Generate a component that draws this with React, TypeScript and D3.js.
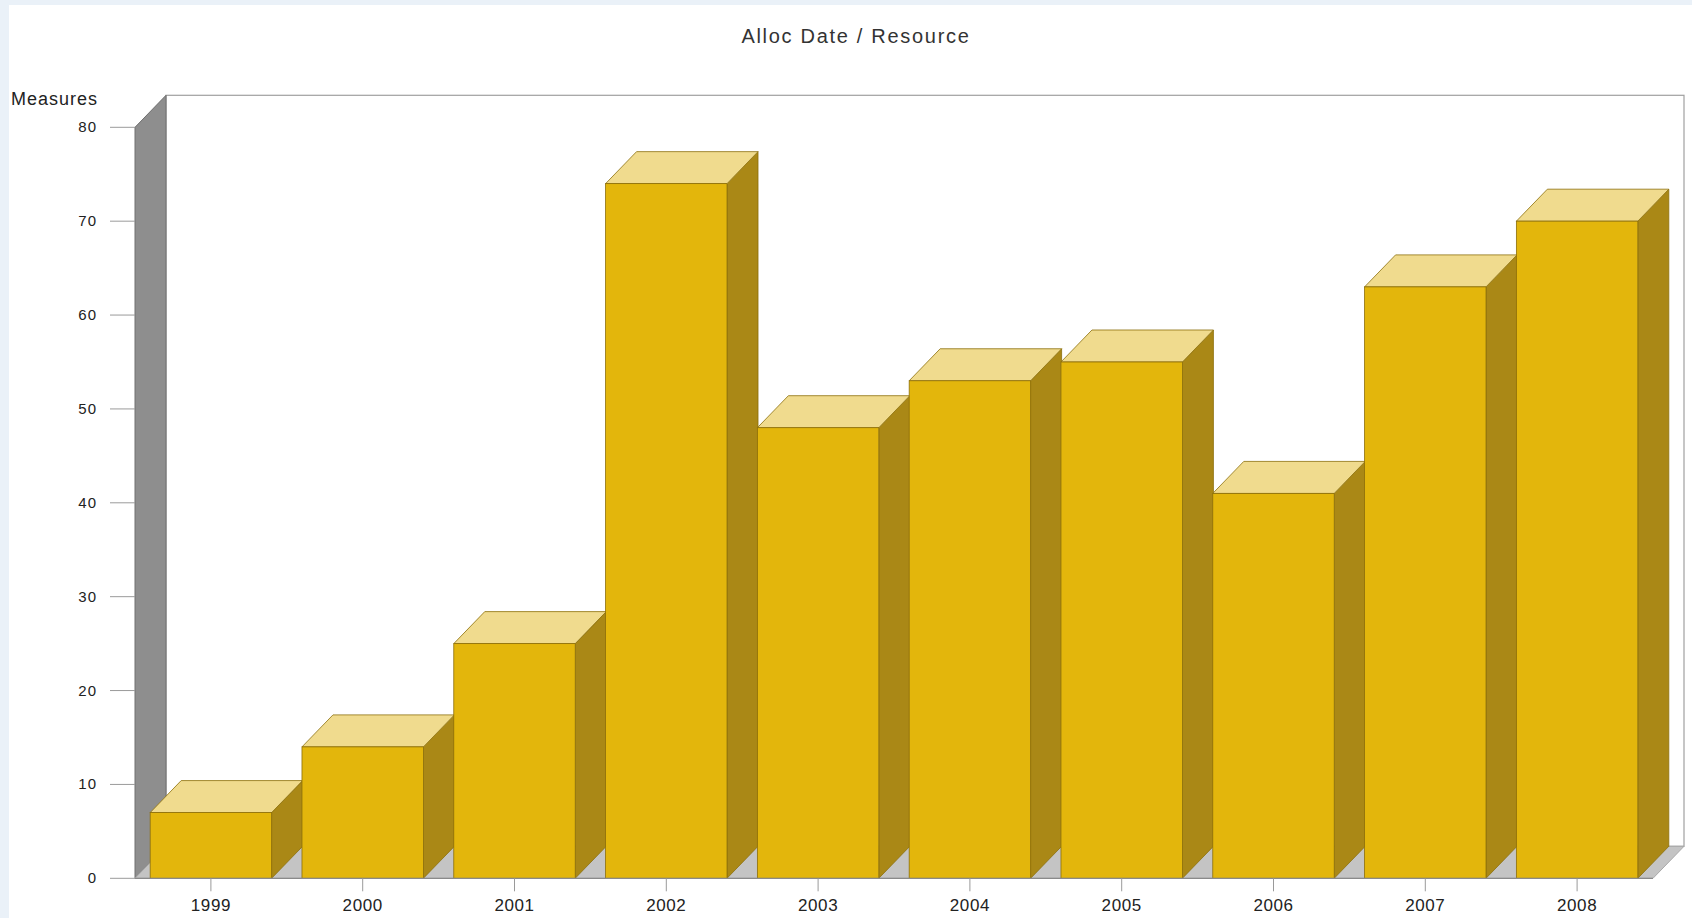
import React from "react";
import * as d3 from "d3";

// Allocation totals per year
const years: string[] = ["1999", "2000", "2001", "2002", "2003", "2004", "2005", "2006", "2007", "2008"];
const measures: number[] = [7, 14, 25, 74, 48, 53, 55, 41, 63, 70];
const yTicks: number[] = [0, 10, 20, 30, 40, 50, 60, 70, 80];

const W = 1692;
const H = 918;
const DX = 31; // 3D depth offset, horizontal
const DY = 32; // 3D depth offset, vertical

const FRONT = "#E3B60C";
const TOP = "#F0DB8E";
const SIDE = "#AA8816";
const EDGE = "#8C6E0A";
const FONT = "'Liberation Sans', Arial, sans-serif";

export default function App() {
  const x = d3.scaleBand<string>().domain(years).range([135, 1653]).paddingInner(0.2).paddingOuter(0.1);
  const y = d3.scaleLinear().domain([0, 80]).range([878.3, 127.3]);
  const [x0, x1] = x.range();
  const y0 = y(0);
  const yMax = y(80);

  const pts = (p: [number, number][]) => p.map((q) => q.join(",")).join(" ");

  return (
    <svg
      width={W}
      height={H}
      style={{ position: "absolute", left: 0, top: 0, display: "block" }}
      fontFamily={FONT}
    >
      <rect x={0} y={0} width={W} height={H} fill="#EAF1F8" />
      <rect x={9} y={5} width={W - 9} height={H - 5} fill="#FFFFFF" />

      {/* back wall */}
      <rect x={x0 + DX} y={yMax - DY} width={x1 - x0} height={y0 - yMax} fill="#FFFFFF" stroke="#A0A0A0" strokeWidth={1.2} />
      {/* left wall */}
      <polygon
        points={pts([[x0, y0], [x0, yMax], [x0 + DX, yMax - DY], [x0 + DX, y0 - DY]])}
        fill="#8E8E8E"
        stroke="#707070"
        strokeWidth={1}
      />
      {/* floor */}
      <polygon
        points={pts([[x0, y0], [x1, y0], [x1 + DX, y0 - DY], [x0 + DX, y0 - DY]])}
        fill="#C4C4C4"
        stroke="#A8A8A8"
        strokeWidth={1}
      />

      {/* y axis ticks */}
      {yTicks.map((t) => (
        <g key={t}>
          <line x1={110} x2={x0} y1={y(t)} y2={y(t)} stroke="#9A9A9A" strokeWidth={1} />
          <text x={97} y={y(t) + 5} textAnchor="end" fontSize={15} letterSpacing={1} fill="#222">
            {t}
          </text>
        </g>
      ))}

      {/* bars */}
      {years.map((yr, i) => {
        const bx0 = x(yr)!;
        const bx1 = bx0 + x.bandwidth();
        const yt = y(measures[i]);
        return (
          <g key={yr}>
            <polygon
              points={pts([[bx1, y0], [bx1, yt], [bx1 + DX, yt - DY], [bx1 + DX, y0 - DY]])}
              fill={SIDE}
              stroke={EDGE}
              strokeWidth={0.8}
            />
            <polygon
              points={pts([[bx0, yt], [bx1, yt], [bx1 + DX, yt - DY], [bx0 + DX, yt - DY]])}
              fill={TOP}
              stroke={EDGE}
              strokeWidth={0.8}
            />
            <rect x={bx0} y={yt} width={bx1 - bx0} height={y0 - yt} fill={FRONT} stroke={EDGE} strokeWidth={0.8} />
          </g>
        );
      })}

      {/* x axis */}
      <line x1={x0} x2={x1} y1={y0} y2={y0} stroke="#8A8A8A" strokeWidth={1.2} />
      {years.map((yr) => {
        const cx = x(yr)! + x.bandwidth() / 2;
        return (
          <g key={yr}>
            <line x1={cx} x2={cx} y1={y0} y2={y0 + 13} stroke="#9A9A9A" strokeWidth={1} />
            <text x={cx} y={911} textAnchor="middle" fontSize={17} letterSpacing={0.6} fill="#222">
              {yr}
            </text>
          </g>
        );
      })}

      <text x={11} y={105} fontSize={18} letterSpacing={1} fill="#222">
        Measures
      </text>
      <text x={856} y={43} textAnchor="middle" fontSize={20} letterSpacing={1.7} fill="#333">
        Alloc Date / Resource
      </text>
    </svg>
  );
}
